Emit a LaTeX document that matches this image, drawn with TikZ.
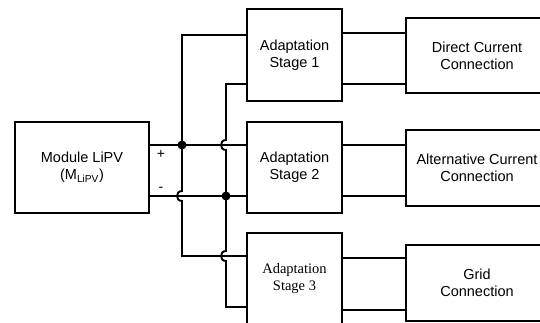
\documentclass[tikz,border=0pt]{standalone}
\usepackage{fontspec}
\setmainfont{Liberation Sans}
\newfontfamily\timesfont{Liberation Serif}
\usetikzlibrary{positioning, calc}
\tikzset{
	blockbox/.style={draw, line width=1.9pt, align=center, inner sep=0pt, font=\fontsize{14.5}{17}\selectfont}
}
\tikzset{
	wire/.style={line width=1.9pt}
}
\tikzset{
	junction/.style={circle, fill=black, inner sep=0pt, minimum size=9pt}
}
\tikzset{
	signtext/.style={font=\fontsize{14}{14}\selectfont}
}
\begin{document}
\begin{tikzpicture}[x=1pt, y=-1pt]
      \useasboundingbox (0,0) rectangle (540,322);
      \clip (0,0) rectangle (540,322);
      \node[blockbox, minimum width=134pt, minimum height=91pt] (module) at (82,167.5) {Module LiPV\\(M\textsubscript{LiPV})};
      \node[signtext] (plus) at (161,154) {+};
      \node[signtext] (minus) at (161,189) {-};
      \node[blockbox, minimum width=95pt, minimum height=92pt] (stA) at (294.5,55) {Adaptation\\Stage 1};
      \node[blockbox, minimum width=95pt, minimum height=91pt] (stB) at (294.5,167.5) {Adaptation\\Stage 2};
      \node[blockbox, minimum width=95pt, minimum height=91pt, font=\timesfont\fontsize{14.5}{17}\selectfont] (stC) at (294.5,278.5) {Adaptation\\Stage 3};
      \node[blockbox, minimum width=142pt, minimum height=75pt] (dc) at (477,55.5) {Direct Current\\Connection};
      \node[blockbox, minimum width=142pt, minimum height=76pt] (ac) at (477,168) {Alternative Current\\Connection};
      \node[blockbox, minimum width=142pt, minimum height=76pt] (grid) at (477,283) {Grid\\Connection};
      % module output lines
      \draw[wire] (module.east |- 0,145) -- (stB.west |- 0,145);
      \draw[wire] (module.east |- 0,196) -- (stB.west |- 0,196);
      \node[junction] (jplus) at (182,145) {};
      \node[junction] (jminus) at (226,196) {};
      % positive rail, hops over the negative line
      \draw[wire] (stA.west |- 0,35) -| (182,191) .. controls (175.3,191) and (175.3,201) .. (182,201) |- (stC.west |- 0,256);
      % negative rail
      \draw[wire] (stA.west |- 0,84) -| (226,140) .. controls (219.3,140) and (219.3,150) .. (226,150)
        -- (226,251) .. controls (219.3,251) and (219.3,261) .. (226,261) |- (stC.west |- 0,307);
      \foreach \s/\o/\ya/\yb in {stA/dc/33/84, stB/ac/145/196, stC/grid/258/310} {
        \draw[wire] (\s.east |- 0,\ya) -- (\o.west |- 0,\ya);
        \draw[wire] (\s.east |- 0,\yb) -- (\o.west |- 0,\yb);
      }
    \end{tikzpicture}
\end{document}
